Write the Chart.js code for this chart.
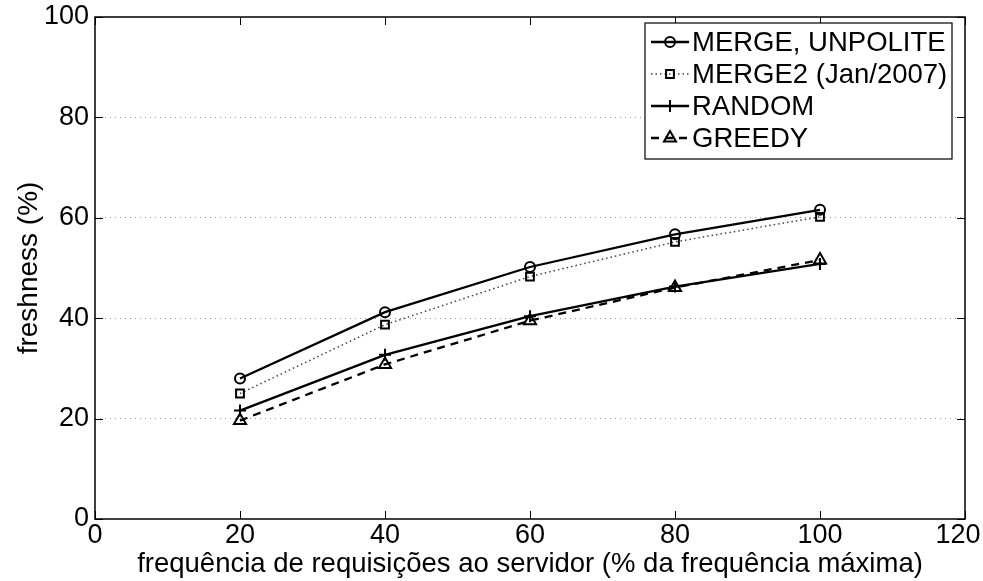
<!DOCTYPE html>
<html>
<head>
<meta charset="utf-8">
<script src="https://cdn.jsdelivr.net/npm/chart.js@4.4.0/dist/chart.umd.min.js"></script>
<style>
body { margin: 0; background: #fff; }
</style>
</head>
<body>
<canvas id="chart" width="983" height="581"></canvas>
<script>
// data
var xValues = [20, 40, 60, 80, 100];
var mergeUnpolite = [28.0, 41.2, 50.2, 56.7, 61.6];
var merge2 = [25.0, 38.7, 48.3, 55.2, 60.2];
var randomSel = [21.6, 32.7, 40.4, 46.3, 50.8];
var greedy = [19.6, 30.8, 39.5, 46.1, 51.6];
var seriesNames = ["MERGE, UNPOLITE", "MERGE2 (Jan/2007)", "RANDOM", "GREEDY"];
var xTicks = [0, 20, 40, 60, 80, 100, 120];
var yTicks = [0, 20, 40, 60, 80, 100];

function toPoints(ys) {
	var pts = [];
	for (var i = 0; i < xValues.length; i++) {
		pts.push({x: xValues[i], y: ys[i]});
	}
	return pts;
}

Chart.defaults.font.family = "'Liberation Sans', Arial, sans-serif";
Chart.defaults.font.size = 27;
Chart.defaults.color = "#000";

// box round the plot, ticks pointing inward, legend in the corner
var framePlugin = {
	id: 'frame',
	beforeDraw: function(chart) {
		// keep the last x label inside the canvas
		var xs = chart.scales.x;
		var items = xs._computeLabelItems(chart.chartArea);
		var last = items[items.length - 1];
		if (last) last.options.translation[0] -= 7;
		xs._labelItems = items;
	},
	afterDatasetsDraw: function(chart) {
		var ctx = chart.ctx;
		var a = chart.chartArea;
		var xs = chart.scales.x, ys = chart.scales.y;
		ctx.save();
		ctx.strokeStyle = '#000';
		ctx.lineWidth = 1.5;
		ctx.setLineDash([]);
		ctx.strokeRect(a.left, a.top, a.right - a.left, a.bottom - a.top);
		ctx.lineWidth = 1;
		ctx.beginPath();
		xTicks.forEach(function(v) {
			var px = Math.round(xs.getPixelForValue(v)) + 0.5;
			ctx.moveTo(px, a.bottom); ctx.lineTo(px, a.bottom - 8);
			ctx.moveTo(px, a.top); ctx.lineTo(px, a.top + 8);
		});
		yTicks.forEach(function(v) {
			var py = Math.round(ys.getPixelForValue(v)) + 0.5;
			ctx.moveTo(a.left, py); ctx.lineTo(a.left + 8, py);
			ctx.moveTo(a.right, py); ctx.lineTo(a.right - 8, py);
		});
		ctx.stroke();

		// legend
		var lx = 645, ly = 23, lw = 307, lh = 136;
		ctx.fillStyle = '#fff';
		ctx.fillRect(lx, ly, lw, lh);
		ctx.strokeStyle = '#000';
		ctx.lineWidth = 1.2;
		ctx.strokeRect(lx, ly, lw, lh);
		ctx.font = "27.5px 'Liberation Sans', Arial, sans-serif";
		ctx.textBaseline = 'middle';
		ctx.textAlign = 'left';
		chart.data.datasets.forEach(function(ds, i) {
			var y = ly + 19 + i * 32;
			ctx.save();
			ctx.strokeStyle = ds.borderColor;
			ctx.lineWidth = ds.borderWidth;
			ctx.setLineDash(ds.borderDash || []);
			ctx.beginPath();
			ctx.moveTo(lx + 6, y);
			ctx.lineTo(lx + 44, y);
			ctx.stroke();
			ctx.setLineDash([]);
			ctx.strokeStyle = '#000';
			ctx.fillStyle = 'rgba(0,0,0,0)';
			ctx.lineWidth = ds.pointBorderWidth;
			Chart.helpers.drawPoint(ctx, {pointStyle: ds.pointStyle, radius: ds.pointRadius, rotation: 0, borderWidth: ds.pointBorderWidth}, lx + 25, y);
			ctx.restore();
			ctx.fillStyle = '#000';
			ctx.fillText(ds.label, lx + 47, y + 1);
		});
		ctx.restore();
	}
};

var ctx = document.getElementById('chart');
var myChart = new Chart(ctx, {
	type: 'line',
	data: {
		datasets: [{
			label: seriesNames[0],
			data: toPoints(mergeUnpolite),
			borderColor: '#000',
			borderWidth: 2.3,
			pointStyle: 'circle',
			pointRadius: 5,
			pointBorderWidth: 2,
			pointBorderColor: '#000',
			pointBackgroundColor: 'rgba(0,0,0,0)'
		}, {
			label: seriesNames[1],
			data: toPoints(merge2),
			borderColor: '#444',
			borderWidth: 1.5,
			borderDash: [1.5, 3],
			pointStyle: 'rect',
			pointRadius: 5.5,
			pointBorderWidth: 2,
			pointBorderColor: '#000',
			pointBackgroundColor: 'rgba(0,0,0,0)'
		}, {
			label: seriesNames[2],
			data: toPoints(randomSel),
			borderColor: '#000',
			borderWidth: 2.3,
			pointStyle: 'cross',
			pointRadius: 6,
			pointBorderWidth: 2,
			pointBorderColor: '#000',
			pointBackgroundColor: 'rgba(0,0,0,0)'
		}, {
			label: seriesNames[3],
			data: toPoints(greedy),
			borderColor: '#000',
			borderWidth: 2.3,
			borderDash: [8, 6],
			pointStyle: 'triangle',
			pointRadius: 7,
			pointBorderWidth: 2,
			pointBorderColor: '#000',
			pointBackgroundColor: 'rgba(0,0,0,0)'
		}]
	},
	options: {
		responsive: false,
		animation: false,
		devicePixelRatio: 1,
		layout: { padding: { top: 17, right: 18, left: 0, bottom: 0 } },
		plugins: {
			legend: { display: false },
			tooltip: { enabled: false }
		},
		scales: {
			x: {
				type: 'linear',
				min: 0,
				max: 120,
				afterFit: function(scale) {
					scale.height = 62;
					scale.paddingLeft = 0;
					scale.paddingRight = 0;
				},
				afterBuildTicks: function(scale) {
					scale.ticks = xTicks.map(function(v) { return {value: v}; });
				},
				ticks: { padding: 0, maxRotation: 0, autoSkip: false },
				grid: { display: false, drawTicks: false },
				border: { display: false },
				title: {
					display: true,
					text: 'frequência de requisições ao servidor (% da frequência máxima)',
					font: { size: 27.5 },
					padding: { top: 0, bottom: 0 }
				}
			},
			y: {
				min: 0,
				max: 100,
				afterFit: function(scale) {
					scale.width = 95;
					scale.paddingTop = 0;
					scale.paddingBottom = 0;
				},
				afterBuildTicks: function(scale) {
					scale.ticks = yTicks.map(function(v) { return {value: v}; });
				},
				ticks: { padding: 6, autoSkip: false },
				grid: {
					drawTicks: false,
					lineWidth: 1,
					color: function(c) {
						if (c.tick && (c.tick.value === 0 || c.tick.value === 100)) return 'rgba(0,0,0,0)';
						return '#9a9a9a';
					}
				},
				border: { display: false, dash: [1, 4] },
				title: {
					display: true,
					text: 'freshness (%)',
					font: { size: 28 },
					padding: { top: 12, bottom: 0 }
				}
			}
		}
	},
	plugins: [framePlugin]
});
</script>
</body>
</html>
